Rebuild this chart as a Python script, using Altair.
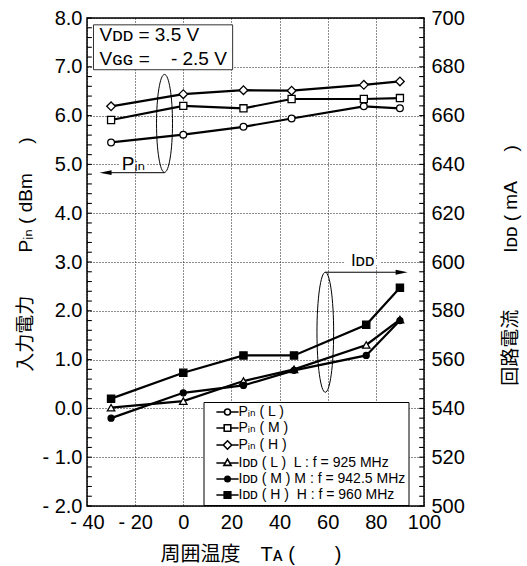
import altair as alt
import pandas as pd

NB = "\u00a0"
IS = "\u3000"

# ---------------- data ----------------
TEMP_PIN = [-30, 0, 25, 45, 75, 90]
TEMP_IDD = [-30, 0, 25, 46, 76, 90]
PIN_L = [5.45, 5.61, 5.77, 5.94, 6.19, 6.15]
PIN_M = [5.91, 6.20, 6.15, 6.34, 6.34, 6.36]
PIN_H = [6.19, 6.44, 6.52, 6.51, 6.63, 6.70]
IDD_L = [540.3, 543.0, 551.2, 556.0, 566.0, 576.4]
IDD_M = [536.0, 546.4, 549.4, 555.6, 561.7, 576.0]
IDD_H = [544.0, 554.6, 561.7, 561.7, 574.3, 589.4]

SERIES = ["Pᵢₙ ( L )", "Pᵢₙ ( M )", "Pᵢₙ ( H )",
          "Iᴅᴅ ( L )" + NB + NB + "L : f = 925 MHz",
          "Iᴅᴅ ( M ) M : f = 942.5 MHz",
          "Iᴅᴅ ( H )" + NB + NB + "H : f = 960 MHz"]

X_TICKS = [-40, -20, 0, 20, 40, 60, 80, 100]
LEFT_TICKS = [-2, -1, 0, 1, 2, 3, 4, 5, 6, 7, 8]
RIGHT_TICKS = [500, 520, 540, 560, 580, 600, 620, 640, 660, 680, 700]
LEFT_MINOR = [k / 5 for k in range(-10, 41)]      # every 0.2 dBm
RIGHT_MINOR = list(range(500, 701, 4))            # every 4 mA
TICK_LEN = 2.0                                     # inward tick length, in deg C

# annotations (in data coordinates)
COND_TEXT = ["Vᴅᴅ = 3.5 V", "Vɢɢ =" + NB * 3 + " - 2.5 V"]
COND_T = [-34.8, -34.8]
COND_V = [7.52, 7.04]
COND_BOX_T = [-37.3, 20.5]
COND_BOX_V = [6.94, 7.86]

PIN_ELL_T, PIN_ELL_V = [-7.8], [5.84]
PIN_ARROW_T = [-7.8, -32.0]
PIN_ARROW_V = [4.83]
PIN_HEAD_T = [-32.3]
PIN_LABEL = ["Pᵢₙ"]
PIN_LABEL_T, PIN_LABEL_V = [-20.7], [4.894]
PIN_GAP_T, PIN_GAP_V = [-26.5, -15.0], [4.96, 5.04]

IDD_ELL_T, IDD_ELL_MA = [59.0], [571.2]
IDD_ARROW_T = [59.0, 91.0]
IDD_ARROW_MA = [595.8]
IDD_HEAD_T = [90.7]
IDD_LABEL = ["Iᴅᴅ"]
IDD_LABEL_T, IDD_LABEL_MA = [74.5], [598.3]
IDD_GAP_T, IDD_GAP_MA = [67.0, 81.6], [598.8, 601.2]

LEFT_TITLE = "入力電力" + IS * 2 + NB + "Pᵢₙ" + NB + "(" + NB + "dBm" + NB + NB + IS + ")"
RIGHT_TITLE = "回路電流" + IS * 3 + "Iᴅᴅ" + NB + "(" + NB + "mA" + NB + NB + IS + ")"
BOTTOM_TITLE = "周囲温度" + IS + "Tᴀ" + NB + "(" + IS + IS + ")"

FONT = "Liberation Sans, Noto Sans CJK JP, DejaVu Sans"

# ---------------- shapes ----------------
ELLIPSE_PIN = "M0,-1A0.163,1,0,1,1,0,1A0.163,1,0,1,1,0,-1Z"
ELLIPSE_IDD = "M0,-1A0.139,1,0,1,1,0,1A0.139,1,0,1,1,0,-1Z"
HEAD_LEFT = "M-1,0L1,-0.4L1,0.4Z"
HEAD_RIGHT = "M1,0L-1,-0.4L-1,0.4Z"

LEG_PATHS = [
    "M-3.7,0L-1,0M1,0L3.7,0M-1,0A1,1,0,1,0,1,0A1,1,0,1,0,-1,0Z",
    "M-3.7,0L-1.1,0M1.1,0L3.7,0M-1.1,-1.1L1.1,-1.1L1.1,1.1L-1.1,1.1Z",
    "M-3.7,0L-1.4,0M1.4,0L3.7,0M-1.4,0L0,-1.4L1.4,0L0,1.4Z",
    "M-3.7,0L-0.75,0M0.75,0L3.7,0M0,-1.3L1.2,0.8L-1.2,0.8Z",
    "M-3.7,0L-0.9,0M0.9,0L3.7,0M-0.9,0A0.9,0.9,0,1,0,0.9,0A0.9,0.9,0,1,0,-0.9,0Z",
    "M-3.7,0L-1.1,0M1.1,0L3.7,0M-1.1,-1.1L1.1,-1.1L1.1,1.1L-1.1,1.1Z",
]
LEG_FILLS = ["white", "white", "white", "white", "black", "black"]
LEG_STROKES = ["black"] * 6

# ---------------- tables ----------------
pin_df = pd.DataFrame({
    "t": TEMP_PIN * 3,
    "v": PIN_L + PIN_M + PIN_H,
    "series": [SERIES[0]] * 6 + [SERIES[1]] * 6 + [SERIES[2]] * 6,
})
idd_df = pd.DataFrame({
    "t": TEMP_IDD * 3,
    "ma": IDD_L + IDD_M + IDD_H,
    "series": [SERIES[3]] * 6 + [SERIES[4]] * 6 + [SERIES[5]] * 6,
})

x_enc = alt.X("t:Q", scale=alt.Scale(domain=[-40, 100], nice=False, zero=False),
              axis=alt.Axis(values=X_TICKS, grid=True,
                            labelExpr="datum.value < 0 ? '- ' + format(-datum.value, 'd') : format(datum.value, 'd')",
                            labelPadding=6,
                            title=BOTTOM_TITLE,
                            titleX=163.5, titleY=48, titleBaseline="middle",
                            titleAlign="center", titleFontSize=20))

y_left = alt.Y("v:Q", scale=alt.Scale(domain=[-2, 8], nice=False, zero=False),
               axis=alt.Axis(values=LEFT_TICKS, grid=True, orient="left",
                             labelExpr="datum.value < 0 ? '- ' + format(-datum.value, '.1f') : format(datum.value, '.1f')",
                             labelPadding=5, labelBaseline="middle",
                             title=LEFT_TITLE,
                             titleAngle=270, titleX=-62, titleY=236,
                             titleBaseline="middle", titleAlign="center"))
y_right = alt.Y("ma:Q", scale=alt.Scale(domain=[500, 700], nice=False, zero=False),
                axis=alt.Axis(values=RIGHT_TICKS, grid=False, orient="right",
                              labelPadding=7, labelBaseline="middle",
                              title=RIGHT_TITLE,
                              titleAngle=270, titleX=86, titleY=247,
                              titleBaseline="middle", titleAlign="center"))

# ---------------- left (Pin) group ----------------
left_minor = alt.Chart(pd.DataFrame({"t": [-40] * len(LEFT_MINOR),
                                     "t2": [-40 + TICK_LEN] * len(LEFT_MINOR),
                                     "v": LEFT_MINOR})).mark_rule(
    color="black", strokeWidth=1.1).encode(x=x_enc, x2="t2:Q", y=y_left)

cond_box = alt.Chart(pd.DataFrame({"t": [COND_BOX_T[0]], "t2": [COND_BOX_T[1]],
                                   "v": [COND_BOX_V[0]], "v2": [COND_BOX_V[1]]})).mark_rect(
    fill="white", stroke="#333333", strokeWidth=1).encode(x=x_enc, x2="t2:Q", y=y_left, y2="v2:Q")
cond_text = alt.Chart(pd.DataFrame({"t": COND_T, "v": COND_V, "txt": COND_TEXT})).mark_text(
    align="left", baseline="alphabetic", font=FONT, fontSize=19, color="black").encode(
    x=x_enc, y=y_left, text="txt:N")

pin_lines = alt.Chart(pin_df).mark_line(color="black", strokeWidth=2.2).encode(
    x=x_enc, y=y_left, detail="series:N")

pin_marks = []
for name, shp, sz in [(SERIES[0], "circle", 45), (SERIES[1], "square", 50), (SERIES[2], "diamond", 75)]:
    pin_marks.append(
        alt.Chart(pin_df).transform_filter(alt.datum.series == name).mark_point(
            opacity=1, strokeWidth=1.3).encode(
            x=x_enc, y=y_left, shape=alt.value(shp), size=alt.value(sz),
            fill=alt.value("white"), stroke=alt.value("black")))

LEG = alt.Legend(title=None, orient="none", legendX=116.5, legendY=384,
                 direction="vertical", labelFont=FONT, labelFontSize=14,
                 labelColor="black", labelLimit=400, symbolSize=36,
                 symbolStrokeWidth=1.6,
                 symbolOpacity=1, symbolOffset=14, labelOffset=4,
                 padding=3, rowPadding=2, strokeColor="black", fillColor="white")

legend_layer = alt.Chart(pin_df).mark_point(opacity=0, size=36, strokeWidth=1.6).encode(
    x=x_enc, y=y_left,
    shape=alt.Shape("series:N", scale=alt.Scale(domain=SERIES, range=LEG_PATHS), legend=LEG),
    fill=alt.Fill("series:N", scale=alt.Scale(domain=SERIES, range=LEG_FILLS), legend=LEG),
    stroke=alt.Stroke("series:N", scale=alt.Scale(domain=SERIES, range=LEG_STROKES), legend=LEG),
)

pin_ell = alt.Chart(pd.DataFrame({"t": PIN_ELL_T, "v": PIN_ELL_V})).mark_point(
    shape=ELLIPSE_PIN, size=9604, filled=False, stroke="black", strokeWidth=1, opacity=1).encode(
    x=x_enc, y=y_left)
pin_arrow = alt.Chart(pd.DataFrame({"t": [PIN_ARROW_T[0]], "t2": [PIN_ARROW_T[1]],
                                    "v": PIN_ARROW_V})).mark_rule(
    color="black", strokeWidth=1).encode(x=x_enc, x2="t2:Q", y=y_left)
pin_head = alt.Chart(pd.DataFrame({"t": PIN_HEAD_T, "v": PIN_ARROW_V})).mark_point(
    shape=HEAD_LEFT, size=144, filled=True, color="black", opacity=1).encode(x=x_enc, y=y_left)
pin_gap = alt.Chart(pd.DataFrame({"t": [PIN_GAP_T[0]], "t2": [PIN_GAP_T[1]],
                                  "v": [PIN_GAP_V[0]], "v2": [PIN_GAP_V[1]]})).mark_rect(
    fill="white").encode(x=x_enc, x2="t2:Q", y=y_left, y2="v2:Q")
pin_label = alt.Chart(pd.DataFrame({"t": PIN_LABEL_T, "v": PIN_LABEL_V, "txt": PIN_LABEL})).mark_text(
    align="center", baseline="alphabetic", font=FONT, fontSize=19, color="black").encode(
    x=x_enc, y=y_left, text="txt:N")

left = alt.layer(left_minor, cond_box, cond_text, pin_gap, pin_lines, *pin_marks, pin_ell,
                 pin_arrow, pin_head, pin_label, legend_layer)

# ---------------- right (IDD) group ----------------
right_minor = alt.Chart(pd.DataFrame({"t": [100] * len(RIGHT_MINOR),
                                      "t2": [100 - TICK_LEN] * len(RIGHT_MINOR),
                                      "ma": RIGHT_MINOR})).mark_rule(
    color="black", strokeWidth=1.1).encode(x=x_enc, x2="t2:Q", y=y_right)

idd_lines = alt.Chart(idd_df).mark_line(color="black", strokeWidth=2.2).encode(
    x=x_enc, y=y_right, detail="series:N")
idd_marks = []
for name, shp, sz, fl in [(SERIES[3], "triangle-up", 55, "white"),
                          (SERIES[4], "circle", 36, "black"),
                          (SERIES[5], "square", 52, "black")]:
    idd_marks.append(
        alt.Chart(idd_df).transform_filter(alt.datum.series == name).mark_point(
            opacity=1, strokeWidth=1.3).encode(
            x=x_enc, y=y_right, shape=alt.value(shp), size=alt.value(sz),
            fill=alt.value(fl), stroke=alt.value("black")))

idd_ell = alt.Chart(pd.DataFrame({"t": IDD_ELL_T, "ma": IDD_ELL_MA})).mark_point(
    shape=ELLIPSE_IDD, size=14400, filled=False, stroke="black", strokeWidth=1, opacity=1).encode(
    x=x_enc, y=y_right)
idd_arrow = alt.Chart(pd.DataFrame({"t": [IDD_ARROW_T[0]], "t2": [IDD_ARROW_T[1]],
                                    "ma": IDD_ARROW_MA})).mark_rule(
    color="black", strokeWidth=1).encode(x=x_enc, x2="t2:Q", y=y_right)
idd_head = alt.Chart(pd.DataFrame({"t": IDD_HEAD_T, "ma": IDD_ARROW_MA})).mark_point(
    shape=HEAD_RIGHT, size=144, filled=True, color="black", opacity=1).encode(x=x_enc, y=y_right)
idd_gap = alt.Chart(pd.DataFrame({"t": [IDD_GAP_T[0]], "t2": [IDD_GAP_T[1]],
                                  "ma": [IDD_GAP_MA[0]], "ma2": [IDD_GAP_MA[1]]})).mark_rect(
    fill="white").encode(x=x_enc, x2="t2:Q", y=y_right, y2="ma2:Q")
idd_label = alt.Chart(pd.DataFrame({"t": IDD_LABEL_T, "ma": IDD_LABEL_MA, "txt": IDD_LABEL})).mark_text(
    align="center", baseline="alphabetic", font=FONT, fontSize=17, color="black").encode(
    x=x_enc, y=y_right, text="txt:N")

right = alt.layer(right_minor, idd_gap, idd_lines, *idd_marks, idd_ell, idd_arrow, idd_head,
                  idd_label)

chart = alt.layer(left, right).resolve_scale(y="independent").properties(
    width=337, height=488,
    padding={"left": 87, "top": 18, "right": 103, "bottom": 60},
    autosize=alt.AutoSizeParams(type="none"),
    background="white",
).configure_view(stroke="black", strokeWidth=1.5).configure_axis(
    labelFont=FONT, labelFontSize=20, labelColor="black",
    titleFont=FONT, titleFontSize=19, titleColor="black", titleFontWeight="normal",
    gridColor="black", gridDash=[1, 2], gridWidth=1, gridOpacity=0.9,
    ticks=False, domain=False, labelFlush=False, labelOverlap=False,
)

chart.save("out.html", embed_options={"renderer": "svg", "actions": False})
